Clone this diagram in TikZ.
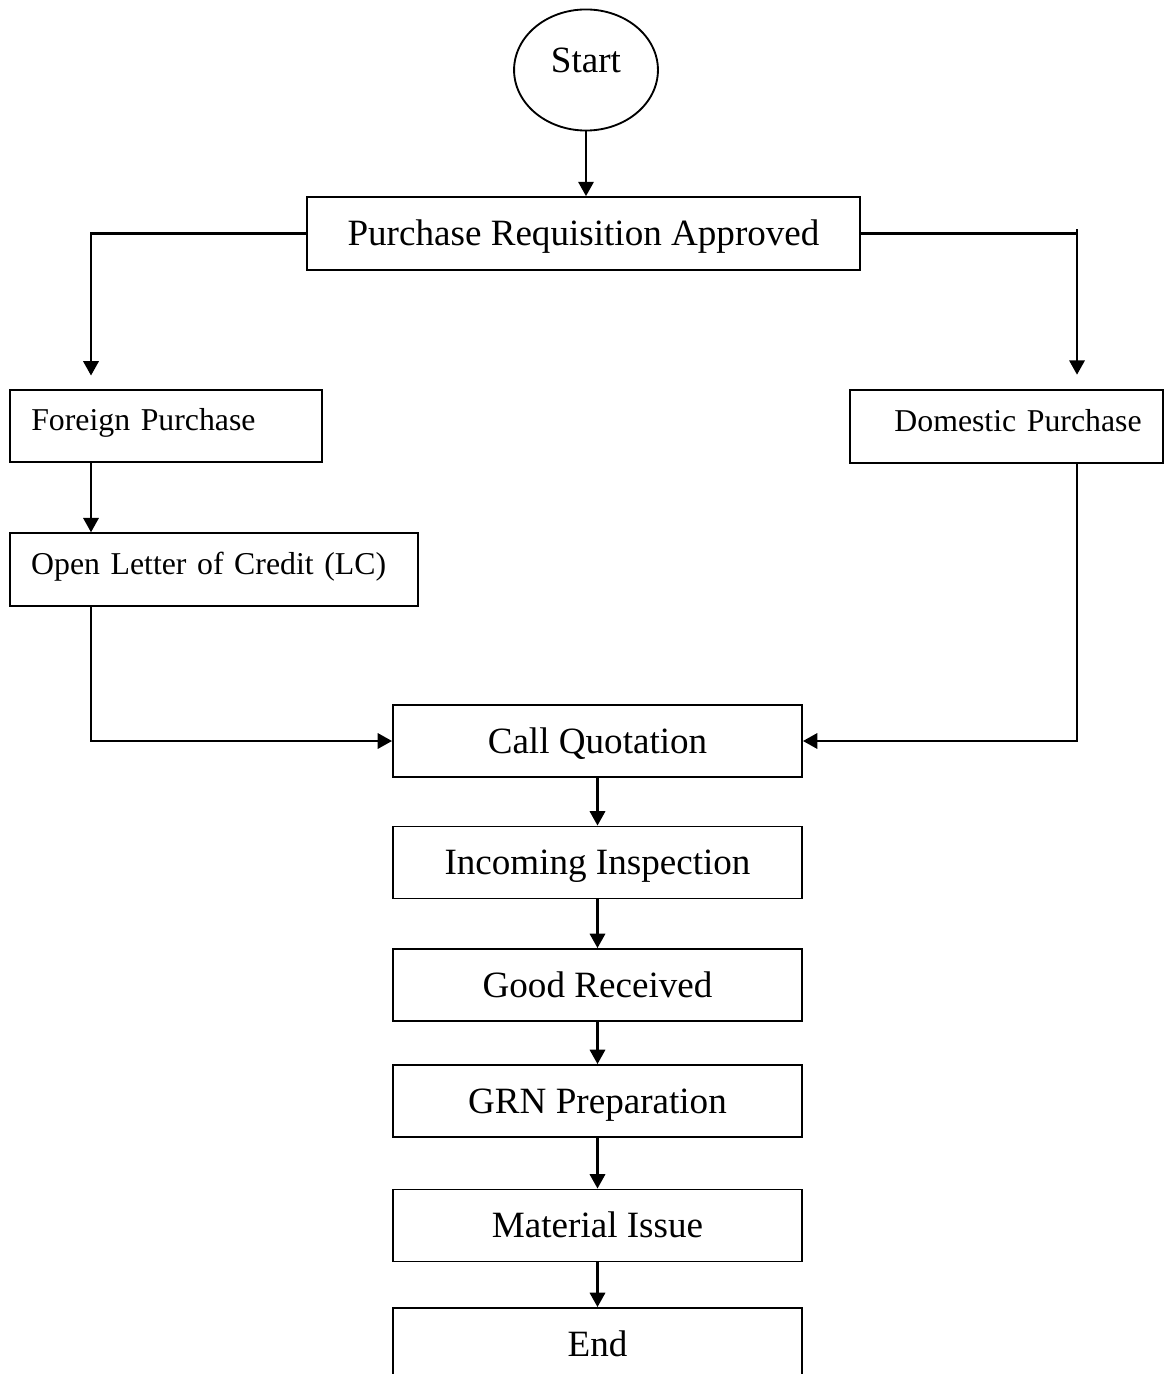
\documentclass[tikz,border=0pt]{standalone}
\usepackage{fontspec}
\setmainfont{Liberation Serif}
\usetikzlibrary{arrows.meta,shapes.geometric}

\begin{document}
\begin{tikzpicture}[x=0.3774pt, y=-0.3774pt,
    box/.style={draw, line width=0.7pt, minimum width=154.4pt, minimum height=27.2pt,
      inner sep=0pt, text height=9.6pt, text depth=0.3pt, font=\fontsize{14}{17}\selectfont},
    sidebox/.style={draw, line width=0.7pt, minimum height=27.4pt, inner xsep=8pt, inner ysep=0pt,
      text height=8.2pt, text depth=4.5pt, font=\fontsize{12}{14}\selectfont},
    arrow/.style={line width=0.8pt, -{Triangle[length=5.4pt,width=5.8pt]}},
    link/.style={line width=0.8pt}]
    \useasboundingbox (0,0) rectangle (1166,1374);

    % Start und Anforderung
    \node[draw, ellipse, line width=0.7pt, minimum width=54.3pt, minimum height=45.7pt, inner sep=0pt,
      text depth=7.6pt, font=\fontsize{14}{17}\selectfont] (start) at (586,70) {Start};
    \node[box, minimum width=208.7pt, minimum height=27.5pt] (req) at (583.5,233.5) {Purchase Requisition Approved};

    % Seitenspalten
    \coordinate (lcol) at (91,0);
    \coordinate (rcol) at (1077,0);
    \node[sidebox, text width=101.7pt, align=left] (fp) at (166,426) {Foreign Purchase};
    \node[sidebox, text width=138pt, align=left] (lc) at (214,569.5) {Open Letter of Credit (LC)};
    \node[sidebox, text width=102pt, align=right] (dp) at (1006.5,426.5) {Domestic Purchase};

    % Hauptspalte
    \node[box] (cq) at (597.5,741) {Call Quotation};
    \node[box] (ii) at (597.5,862.5) {Incoming Inspection};
    \node[box] (gr) at (597.5,985) {Good Received};
    \node[box] (grn) at (597.5,1101) {GRN Preparation};
    \node[box] (mi) at (597.5,1225.5) {Material Issue};
    \node[box] (end) at (597.5,1344) {End};

    % Verbindungen
    \draw[arrow] (start.south) -- (start.south |- req.north);
    \draw[arrow, shorten >=5pt] (req.west) -| (lcol |- fp.north);
    \draw[link] (req.east) -- (req.east -| rcol) -- ++(0,-4);
    \draw[arrow, shorten >=5.5pt] (req.east -| rcol) -- (rcol |- dp.north);
    \draw[arrow] (lcol |- fp.south) -- (lcol |- lc.north);
    \draw[arrow] (lcol |- lc.south) |- (cq.west);
    \draw[arrow] (rcol |- dp.south) |- (cq.east);
    \draw[arrow] (cq) -- (ii);
    \draw[arrow] (ii) -- (gr);
    \draw[arrow] (gr) -- (grn);
    \draw[arrow] (grn) -- (mi);
    \draw[arrow] (mi) -- (end);
\end{tikzpicture}
\end{document}
